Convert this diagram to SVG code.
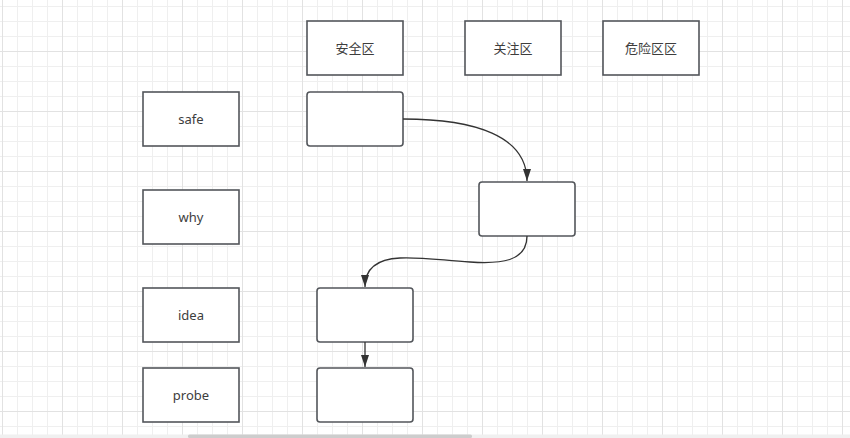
<svg xmlns="http://www.w3.org/2000/svg" width="850" height="438" viewBox="0 0 850 438">
<defs>
<pattern id="minor" x="2" y="6" width="15" height="15" patternUnits="userSpaceOnUse">
<path d="M0.5,0V15M0,0.5H15" fill="none" stroke="#efefef" stroke-width="1"/>
</pattern>
<pattern id="major" x="2" y="-9" width="60" height="60" patternUnits="userSpaceOnUse">
<path d="M0.5,0V60M0,0.5H60" fill="none" stroke="#e2e2e2" stroke-width="1"/>
</pattern>
<marker id="arr" markerUnits="userSpaceOnUse" markerWidth="14" markerHeight="10" viewBox="0 0 14 10" refX="12" refY="5" orient="auto">
<path d="M0,1 L12,5 L0,9 Z" fill="#333333"/>
</marker>
<style>
.box{fill:#ffffff;stroke:#53565b;stroke-width:1.6}
.lbl{font-family:"Noto Sans","Noto Sans CJK SC",sans-serif;font-size:13px;fill:#3d3d3d;text-anchor:middle;dominant-baseline:central}
.edge{fill:none;stroke:#333333;stroke-width:1.3}
</style>
</defs>
<rect width="850" height="438" fill="#ffffff"/>
<rect width="850" height="438" fill="url(#minor)"/>
<rect width="850" height="438" fill="url(#major)"/>

<g id="zone-safe"><rect class="box" x="307" y="21" width="96" height="54"/><text class="lbl" x="355" y="48">安全区</text></g>
<g id="zone-watch"><rect class="box" x="465" y="21" width="96" height="54"/><text class="lbl" x="513" y="48">关注区</text></g>
<g id="zone-danger"><rect class="box" x="603" y="21" width="96" height="54"/><text class="lbl" x="651" y="48">危险区区</text></g>

<g id="row-safe"><rect class="box" x="143" y="92" width="96" height="54"/><text class="lbl" x="191" y="119">safe</text></g>
<g id="row-why"><rect class="box" x="143" y="190" width="96" height="54"/><text class="lbl" x="191" y="217">why</text></g>
<g id="row-idea"><rect class="box" x="143" y="288" width="96" height="54"/><text class="lbl" x="191" y="315">idea</text></g>
<g id="row-probe"><rect class="box" x="143" y="368" width="96" height="54"/><text class="lbl" x="191" y="395">probe</text></g>

<g id="step-a"><rect class="box" x="307" y="92" width="96" height="54" rx="3"/></g>
<g id="step-b"><rect class="box" x="479" y="182" width="96" height="54" rx="3"/></g>
<g id="step-c"><rect class="box" x="317" y="288" width="96" height="54" rx="3"/></g>
<g id="step-d"><rect class="box" x="317" y="368" width="96" height="54" rx="3"/></g>

<g id="connectors">
<path class="edge" d="M403,119 C475,119 527,136 527,181" marker-end="url(#arr)"/>
<path class="edge" d="M527,236 C527,262 500,264 470,262 C440,260 420,257 400,258 C378,259 365,268 365,287" marker-end="url(#arr)"/>
<path class="edge" d="M365,342 L365,367" marker-end="url(#arr)"/>
</g>

<rect x="0" y="434.5" width="850" height="3.5" fill="#f0f0f0"/>
<rect x="188" y="434.5" width="284" height="3.5" rx="1.5" fill="#cdcdcd"/>
</svg>
